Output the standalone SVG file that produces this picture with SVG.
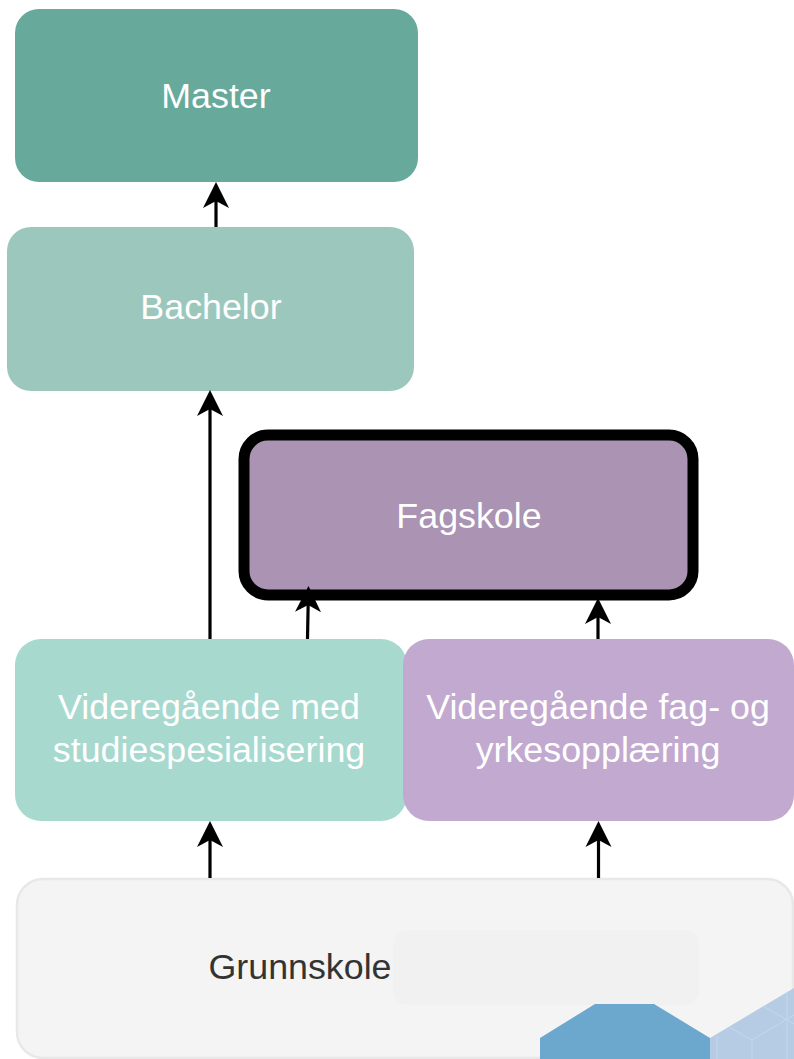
<svg xmlns="http://www.w3.org/2000/svg" width="794" height="1059" viewBox="0 0 794 1059">
<style>
.t{font-family:"Liberation Sans",Arial,sans-serif;font-size:35.800px;fill:#fff;text-anchor:middle}
.c{fill:none;stroke:#000;stroke-width:3.2}
</style>
<defs>
<marker id="a" markerUnits="userSpaceOnUse" markerWidth="30" markerHeight="30" refX="20" refY="14" orient="auto"><path d="M26 14 L0 1 L7 14 L0 27 Z" fill="#000"/></marker>
</defs>
<rect width="794" height="1059" fill="#fff"/>
<g id="grunnskole"><rect x="17" y="879" width="776" height="179" rx="26" fill="#f4f4f4" stroke="#e8e8e8" stroke-width="2.5"/><rect x="393" y="930" width="306" height="75" rx="14" fill="#f1f1f1"/><text class="t" x="300" y="979" style="fill:#333">Grunnskole</text></g>
<g id="hex"><path d="M540 1059V1038L595 1004H654L710 1038V1059Z" fill="#6ca7cd"/><path d="M710 1059V1038L794 988V1059Z" fill="#b6cce4"/><path d="M717 1059V1036M752 1059V1040L794 1015M729 1027L752 1040M763 1006L794 1024M787 992V1059" fill="none" stroke="#c6d7ea" stroke-width="1"/></g>
<g id="master"><rect x="15" y="9" width="403" height="173" rx="24" fill="#67aa9c"/><text class="t" x="216" y="108">Master</text></g>
<g id="bachelor"><rect x="7" y="227" width="407" height="164" rx="24" fill="#9cc7bd"/><text class="t" x="211" y="319">Bachelor</text></g>
<g id="fagskole"><rect x="244" y="435" width="449" height="160" rx="24" fill="#aa93b3" stroke="#000" stroke-width="11"/><text class="t" x="469" y="528">Fagskole</text></g>
<g id="vgs-studie"><rect x="15" y="639" width="392" height="182" rx="26" fill="#a7d9cf"/><text class="t" x="209" y="719">Videregående med</text><text class="t" x="209" y="762">studiespesialisering</text></g>
<g id="vgs-yrke"><rect x="403" y="639" width="391" height="182" rx="26" fill="#c2a9cf"/><text class="t" x="598" y="719">Videregående fag- og</text><text class="t" x="598" y="762">yrkesopplæring</text></g>
<g id="connectors">
<path class="c" d="M216 227V188" marker-end="url(#a)"/>
<path class="c" d="M210 639V396" marker-end="url(#a)"/>
<path class="c" d="M307.500 639L308.400 592" marker-end="url(#a)"/>
<path class="c" d="M598 639V604" marker-end="url(#a)"/>
<path class="c" d="M210 878V827" marker-end="url(#a)"/>
<path class="c" d="M598.500 878V827" marker-end="url(#a)"/>
</g>
</svg>
